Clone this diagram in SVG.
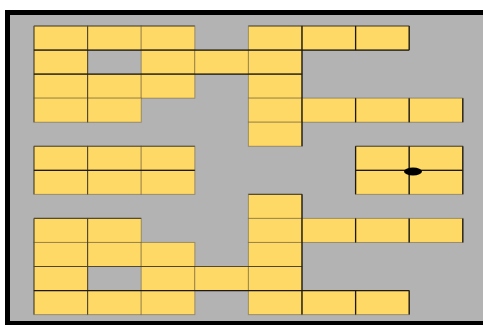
<svg xmlns="http://www.w3.org/2000/svg" width="483" height="325" viewBox="0 0 483 325">
<style>
.cell{fill:#ffd966;stroke:#3a3320;stroke-opacity:0.38;stroke-width:1}
.wall{fill:none;stroke:#1e1a10;stroke-width:1.3}
.mid{fill:none;stroke:#3a3320;stroke-opacity:0.75;stroke-width:1.1}
</style>
<rect x="7.5" y="12.5" width="480" height="311" fill="#b3b3b3" stroke="#000" stroke-width="5"/>
<g id="cells">
<g id="r0c0"><rect class="cell" x="34" y="26" width="53.6" height="24.05"/></g>
<g id="r0c1"><rect class="cell" x="87.6" y="26" width="53.6" height="24.05"/></g>
<g id="r0c2"><rect class="cell" x="141.2" y="26" width="53.6" height="24.05"/></g>
<g id="r0c4"><rect class="cell" x="248.4" y="26" width="53.6" height="24.05"/></g>
<g id="r0c5"><rect class="cell" x="302" y="26" width="53.6" height="24.05"/></g>
<g id="r0c6"><rect class="cell" x="355.6" y="26" width="53.6" height="24.05"/></g>
<g id="r1c0"><rect class="cell" x="34" y="50.05" width="53.6" height="24.05"/></g>
<g id="r1c2"><rect class="cell" x="141.2" y="50.05" width="53.6" height="24.05"/></g>
<g id="r1c3"><rect class="cell" x="194.8" y="50.05" width="53.6" height="24.05"/></g>
<g id="r1c4"><rect class="cell" x="248.4" y="50.05" width="53.6" height="24.05"/></g>
<g id="r2c0"><rect class="cell" x="34" y="74.1" width="53.6" height="24.05"/></g>
<g id="r2c1"><rect class="cell" x="87.6" y="74.1" width="53.6" height="24.05"/></g>
<g id="r2c2"><rect class="cell" x="141.2" y="74.1" width="53.6" height="24.05"/></g>
<g id="r2c4"><rect class="cell" x="248.4" y="74.1" width="53.6" height="24.05"/></g>
<g id="r3c0"><rect class="cell" x="34" y="98.15" width="53.6" height="24.05"/></g>
<g id="r3c1"><rect class="cell" x="87.6" y="98.15" width="53.6" height="24.05"/></g>
<g id="r3c4"><rect class="cell" x="248.4" y="98.15" width="53.6" height="24.05"/></g>
<g id="r3c5"><rect class="cell" x="302" y="98.15" width="53.6" height="24.05"/></g>
<g id="r3c6"><rect class="cell" x="355.6" y="98.15" width="53.6" height="24.05"/></g>
<g id="r3c7"><rect class="cell" x="409.2" y="98.15" width="53.6" height="24.05"/></g>
<g id="r4c4"><rect class="cell" x="248.4" y="122.2" width="53.6" height="24.05"/></g>
<g id="r5c0"><rect class="cell" x="34" y="146.25" width="53.6" height="24.05"/></g>
<g id="r5c1"><rect class="cell" x="87.6" y="146.25" width="53.6" height="24.05"/></g>
<g id="r5c2"><rect class="cell" x="141.2" y="146.25" width="53.6" height="24.05"/></g>
<g id="r5c6"><rect class="cell" x="355.6" y="146.25" width="53.6" height="24.05"/></g>
<g id="r5c7"><rect class="cell" x="409.2" y="146.25" width="53.6" height="24.05"/></g>
<g id="r6c0"><rect class="cell" x="34" y="170.3" width="53.6" height="24.05"/></g>
<g id="r6c1"><rect class="cell" x="87.6" y="170.3" width="53.6" height="24.05"/></g>
<g id="r6c2"><rect class="cell" x="141.2" y="170.3" width="53.6" height="24.05"/></g>
<g id="r6c6"><rect class="cell" x="355.6" y="170.3" width="53.6" height="24.05"/></g>
<g id="r6c7"><rect class="cell" x="409.2" y="170.3" width="53.6" height="24.05"/></g>
<g id="r7c4"><rect class="cell" x="248.4" y="194.35" width="53.6" height="24.05"/></g>
<g id="r8c0"><rect class="cell" x="34" y="218.4" width="53.6" height="24.05"/></g>
<g id="r8c1"><rect class="cell" x="87.6" y="218.4" width="53.6" height="24.05"/></g>
<g id="r8c4"><rect class="cell" x="248.4" y="218.4" width="53.6" height="24.05"/></g>
<g id="r8c5"><rect class="cell" x="302" y="218.4" width="53.6" height="24.05"/></g>
<g id="r8c6"><rect class="cell" x="355.6" y="218.4" width="53.6" height="24.05"/></g>
<g id="r8c7"><rect class="cell" x="409.2" y="218.4" width="53.6" height="24.05"/></g>
<g id="r9c0"><rect class="cell" x="34" y="242.45" width="53.6" height="24.05"/></g>
<g id="r9c1"><rect class="cell" x="87.6" y="242.45" width="53.6" height="24.05"/></g>
<g id="r9c2"><rect class="cell" x="141.2" y="242.45" width="53.6" height="24.05"/></g>
<g id="r9c4"><rect class="cell" x="248.4" y="242.45" width="53.6" height="24.05"/></g>
<g id="r10c0"><rect class="cell" x="34" y="266.5" width="53.6" height="24.05"/></g>
<g id="r10c2"><rect class="cell" x="141.2" y="266.5" width="53.6" height="24.05"/></g>
<g id="r10c3"><rect class="cell" x="194.8" y="266.5" width="53.6" height="24.05"/></g>
<g id="r10c4"><rect class="cell" x="248.4" y="266.5" width="53.6" height="24.05"/></g>
<g id="r11c0"><rect class="cell" x="34" y="290.55" width="53.6" height="24.05"/></g>
<g id="r11c1"><rect class="cell" x="87.6" y="290.55" width="53.6" height="24.05"/></g>
<g id="r11c2"><rect class="cell" x="141.2" y="290.55" width="53.6" height="24.05"/></g>
<g id="r11c4"><rect class="cell" x="248.4" y="290.55" width="53.6" height="24.05"/></g>
<g id="r11c5"><rect class="cell" x="302" y="290.55" width="53.6" height="24.05"/></g>
<g id="r11c6"><rect class="cell" x="355.6" y="290.55" width="53.6" height="24.05"/></g>
</g>
<g id="walls">
<path class="mid" d="M34 26V122.2 M34 146.25V194.35 M34 218.4V314.6 M87.6 26V122.2 M87.6 146.25V194.35 M87.6 218.4V314.6 M34 26H194.8 M248.4 26H409.2 M34 146.25H194.8 M355.6 146.25H462.8 M248.4 194.35H302 M34 218.4H141.2 M34 266.5H302"/>
<path class="wall" d="M34 50.05H409.2 M34 74.1H302 M34 170.3H194.8 M355.6 170.3H462.8 M34 290.55H409.2 M302 26V146.25 M302 194.35V314.6 M355.6 26V50.05 M409.2 26V50.05 M355.6 98.15V122.2 M409.2 98.15V122.2 M462.8 98.15V122.2 M355.6 146.25V194.35 M409.2 146.25V194.35 M462.8 146.25V194.35 M355.6 218.4V242.45 M409.2 218.4V242.45 M462.8 218.4V242.45 M355.6 290.55V314.6 M409.2 290.55V314.6"/>
</g>
<g id="marker"><ellipse cx="413" cy="171.5" rx="9" ry="4" fill="#000"/></g>
</svg>
